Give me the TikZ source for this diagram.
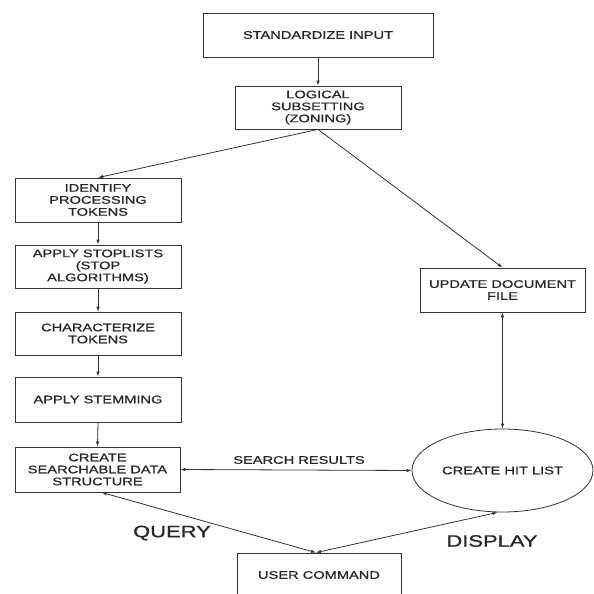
\documentclass[tikz,border=0pt]{standalone}
\usepackage{fontspec}
\setmainfont{Liberation Sans}[FakeStretch=1.33,FakeBold=0.8]
\usetikzlibrary{arrows.meta,shapes.geometric}
\tikzset{
  boxnode/.style={draw=black!80, line width=0.8pt, rectangle, inner sep=0pt,
    minimum width=166pt, minimum height=44pt, align=center, text=black!85,
    font=\fontsize{11}{12}\selectfont},
  ovalnode/.style={draw=black!80, line width=0.8pt, ellipse, inner sep=0pt,
    minimum width=181pt, minimum height=83pt, align=center, text=black!85,
    font=\fontsize{11}{12}\selectfont},
  biglabel/.style={text=black!85, inner sep=0pt, font=\fontsize{16.5}{18}\selectfont},
  smalllabel/.style={text=black!85, inner sep=0pt, font=\fontsize{11}{12}\selectfont},
  conn/.style={draw=black!80, line width=0.8pt},
  tip/.style={-{Latex[length=5pt,width=3.5pt]}},
  tips/.style={{Latex[length=5pt,width=3.5pt]}-{Latex[length=5pt,width=3.5pt]}}
}
\begin{document}
\begin{tikzpicture}[x=1pt,y=-1pt]
\useasboundingbox (0,0) rectangle (594,594);
\node[boxnode, minimum width=230pt] (std) at (318,35) {STANDARDIZE INPUT};
\node[boxnode, minimum height=43pt] (log) at (318,107.5) {LOGICAL\\SUBSETTING\\(ZONING)};
\node[boxnode] (idt) at (98,200) {IDENTIFY\\PROCESSING\\TOKENS};
\node[boxnode, minimum height=43pt] (stp) at (98,266.5) {APPLY STOPLISTS\\(STOP\\ALGORITHMS)};
\node[boxnode, minimum height=43pt] (chr) at (98,333.5) {CHARACTERIZE\\TOKENS};
\node[boxnode, minimum height=45pt] (stm) at (98,399.5) {APPLY STEMMING};
\node[boxnode, minimum width=165pt, minimum height=45pt] (sea) at (97.5,469.5) {CREATE\\SEARCHABLE DATA\\STRUCTURE};
\node[boxnode, minimum width=165pt] (upd) at (502.5,290) {UPDATE DOCUMENT\\FILE};
\node[ovalnode] (hit) at (502.5,470.5) {CREATE HIT LIST};
\node[boxnode, minimum width=164pt] (usr) at (319,575) {USER COMMAND};
\node[smalllabel] (srl) at (299,460) {SEARCH RESULTS};
\node[biglabel] (qry) at (172,533) {QUERY};
\node[biglabel] (dsp) at (492,541) {DISPLAY};

\draw[conn, tip] (std.south) -- (log.north);
\draw[conn, tip] (log.south) -- (idt.north);
\draw[conn, tip] (log.south) -- (upd.north);
\draw[conn, tip] (idt.south) -- (stp.north);
\draw[conn, tip] (stp.south) -- (chr.north);
\draw[conn, tip] (chr.south) -- (stm.north);
\draw[conn, tip] (stm.south) -- (sea.north);
\draw[conn, tips] (upd.south) -- (hit.north);
\draw[conn, tips] (sea.east) -- (hit.west);
\draw[conn, tips] ([xshift=4pt]sea.south) -- ([xshift=-3pt]usr.north);
\draw[conn, tips] ([xshift=-3pt]usr.north) -- ([xshift=-5pt]hit.south);
\end{tikzpicture}
\end{document}
